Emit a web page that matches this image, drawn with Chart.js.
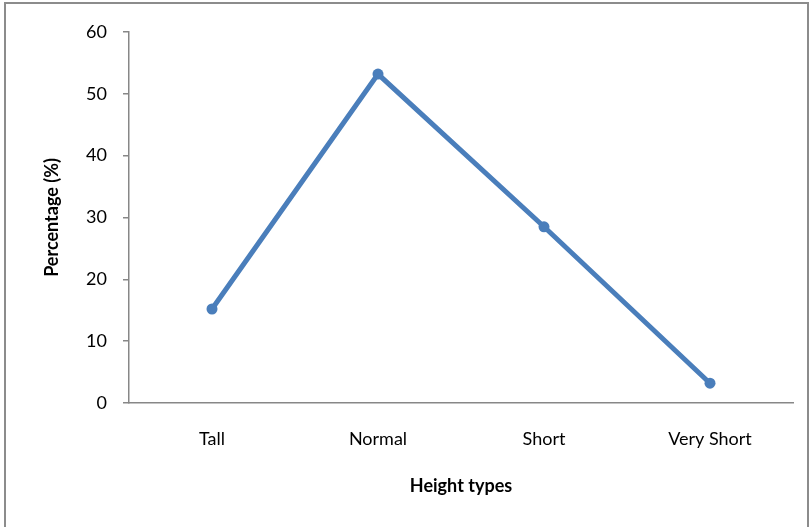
<!DOCTYPE html>
<html lang="en">
<head>
  <meta charset="UTF-8" />
  <title>Height types</title>
  <script src="https://cdn.jsdelivr.net/npm/chart.js"></script>
  <style>
    body {
      margin: 0;
      padding: 0;
      background: #fff;
      overflow: hidden;
    }
    .frame {
      position: absolute;
      left: 4px;
      top: 2px;
      width: 801px;
      height: 600px;
      border: 2px solid #8c8c8c;
    }
    canvas {
      position: absolute;
      left: 0;
      top: 0;
    }
  </style>
</head>
<body>
  <div class="frame"></div>
  <canvas id="grafico" width="810" height="527"></canvas>

  <script>
    const categorias = ['Tall', 'Normal', 'Short', 'Very Short'];
    const percentuais = [15.2, 53.2, 28.5, 3.2];

    const corLinha = '#4a7ebb';
    const corEixo = '#878787';
    const fonte = 'Lato, "Open Sans", sans-serif';

    new Chart(document.getElementById('grafico').getContext('2d'), {
      type: 'line',
      data: {
        labels: categorias,
        datasets: [{
          data: percentuais,
          borderColor: corLinha,
          backgroundColor: corLinha,
          borderWidth: 5,
          pointRadius: 5.5,
          pointHoverRadius: 5.5,
          pointBorderWidth: 0,
          tension: 0
        }]
      },
      options: {
        responsive: false,
        animation: false,
        devicePixelRatio: 1,
        layout: { padding: { left: 0, top: 32, right: 17, bottom: 0 } },
        plugins: {
          legend: { display: false },
          tooltip: { enabled: false }
        },
        scales: {
          x: {
            offset: true,
            grid: { drawOnChartArea: false, drawTicks: false },
            border: { display: true, color: corEixo, width: 1.5 },
            ticks: { color: '#000', padding: 25, font: { family: fonte, size: 18 } },
            title: {
              display: true,
              text: 'Height types',
              color: '#000',
              font: { family: fonte, size: 18, weight: 'bold' },
              padding: { top: 0, bottom: 30 }
            },
            afterFit: (s) => { s.height = 124; }
          },
          y: {
            min: 0,
            max: 60,
            ticks: { stepSize: 10, color: '#000', padding: 16, font: { family: fonte, size: 18 } },
            grid: { drawOnChartArea: false, drawTicks: true, tickLength: 6, color: corEixo, lineWidth: 1.5 },
            border: { display: true, color: corEixo, width: 1.5 },
            title: {
              display: true,
              text: 'Percentage (%)',
              color: '#000',
              font: { family: fonte, size: 18, weight: 'bold' },
              padding: { top: 41, bottom: 0 }
            },
            afterFit: (s) => { s.width = 129; }
          }
        }
      }
    });
  </script>
</body>
</html>
